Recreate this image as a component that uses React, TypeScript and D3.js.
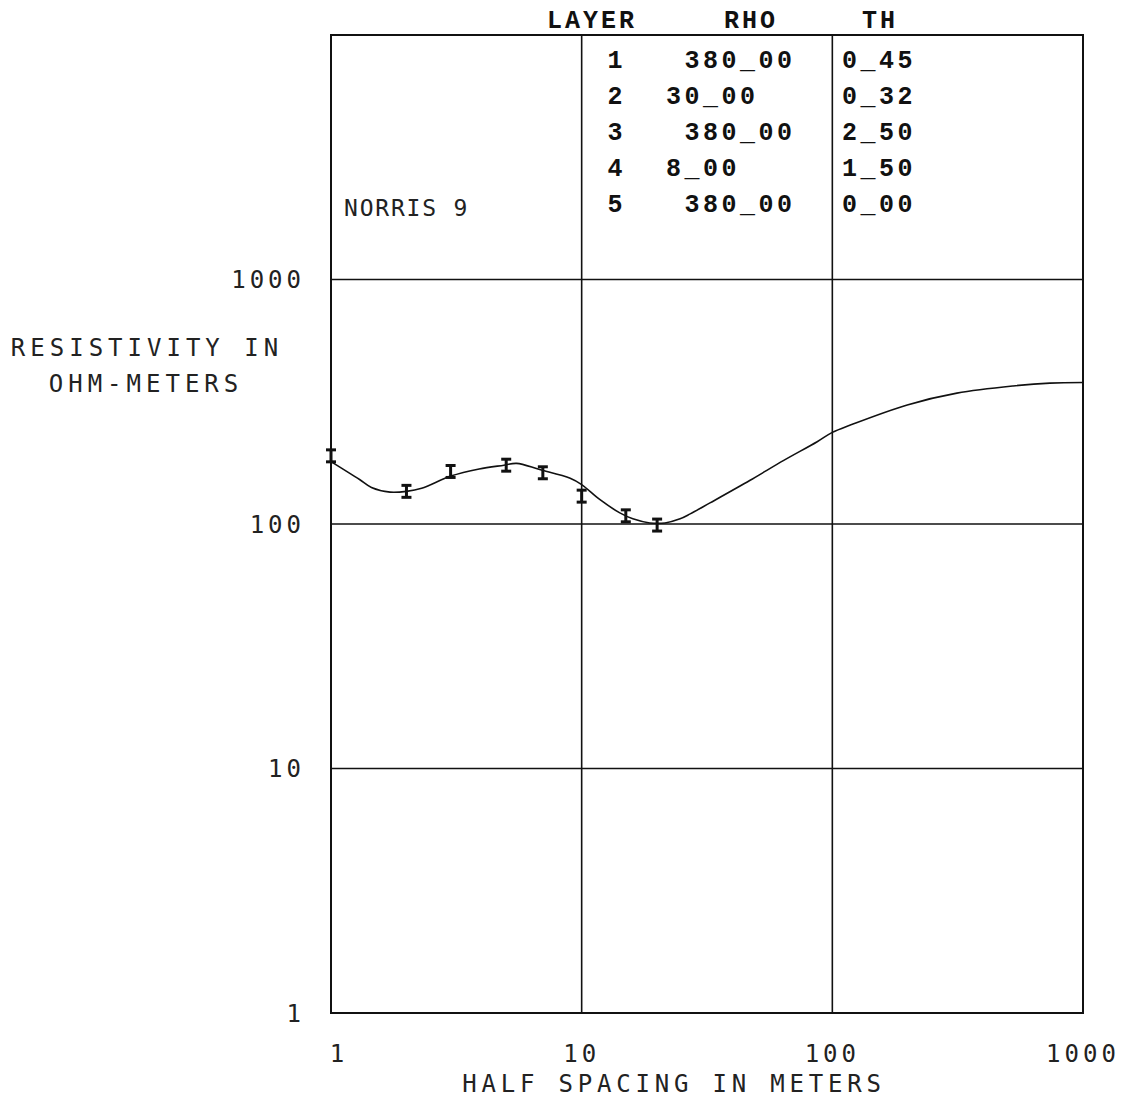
import * as d3 from 'd3';

// axis ticks
const spacingTicks = [1, 10, 100, 1000];
const resTicks = [1, 10, 100, 1000];
const gridX = [10, 100];
const gridY = [10, 100, 1000];

// field soundings (half spacing m, apparent resistivity ohm-m)
const fieldSpacing = [1, 2, 3, 5, 7, 10, 15, 20];
const fieldRho = [190, 136, 164, 174, 162, 130, 108, 99];

// model curve
const modelSpacing = [1, 1.3, 1.45, 1.72, 2, 2.3, 3, 3.9, 4.9, 5.5, 6.8, 9, 10, 11.8, 14.2, 16, 18.7, 21.5, 24.7, 27.1, 32.5, 47, 64, 87, 100, 118, 199, 314, 526, 738, 1000];
const modelRho = [180, 152, 141, 135, 136, 140, 157, 168, 174, 177, 167, 154, 145, 126, 111, 105, 101, 101, 105, 110, 122, 151, 182, 217, 237, 254, 307, 343, 367, 377, 379];

// layer table
const layerNo = ['1', '2', '3', '4', '5'];
const layerRho = [' 380_00', '30_00', ' 380_00', '8_00', ' 380_00'];
const layerTh = ['0_45', '0_32', '2_50', '1_50', '0_00'];

const W = 1143;
const H = 1103;
const ERR = 1.058;

const mono = '"DejaVu Sans Mono", monospace';
const type = '"Liberation Mono", "Courier New", monospace';

export default function App() {
  const x = d3.scaleLog().domain([1, 1000]).range([331, 1083]);
  const y = d3.scaleLog().domain([1, 10000]).range([1013, 35]);

  const line = d3
    .line<number>()
    .x((_, i) => x(modelSpacing[i]))
    .y((d) => y(d))
    .curve(d3.curveCatmullRom.alpha(0.5));

  const x0 = x(1);
  const x1 = x(1000);
  const yTop = y(10000);
  const yBot = y(1);
  const rowY = (i: number) => 68 + i * 36;

  return (
    <svg width={W} height={H} style={{ position: 'absolute', left: 0, top: 0, background: '#fff' }}>
      {/* grid */}
      {gridX.map((v) => (
        <line key={'gx' + v} x1={x(v)} x2={x(v)} y1={yTop} y2={yBot} stroke="#111" strokeWidth={1.6} />
      ))}
      {gridY.map((v) => (
        <line key={'gy' + v} x1={x0} x2={x1} y1={y(v)} y2={y(v)} stroke="#111" strokeWidth={1.4} />
      ))}
      {/* frame */}
      <rect x={x0} y={yTop} width={x1 - x0} height={yBot - yTop} fill="none" stroke="#111" strokeWidth={2} />

      {/* model curve */}
      <path d={line(modelRho) || ''} fill="none" stroke="#111" strokeWidth={1.6} />

      {/* field data with error bars */}
      {fieldSpacing.map((s, i) => {
        const cx = x(s);
        const ya = y(fieldRho[i] * ERR);
        const yb = y(fieldRho[i] / ERR);
        return (
          <g key={'p' + i} stroke="#111" strokeWidth={3}>
            <line x1={cx} x2={cx} y1={ya} y2={yb} />
            <line x1={cx - 5} x2={cx + 5} y1={ya} y2={ya} />
            <line x1={cx - 5} x2={cx + 5} y1={yb} y2={yb} />
          </g>
        );
      })}

      {/* y tick labels */}
      {resTicks.map((v) => (
        <text key={'yl' + v} x={305} y={y(v)} dy="0.36em" textAnchor="end" fontFamily={mono} fontSize={24} letterSpacing={4} fill="#222">
          {String(v)}
        </text>
      ))}
      {/* x tick labels */}
      {spacingTicks.map((v) => (
        <text key={'xl' + v} x={x(v) + (v === 1 ? 8 : 0)} y={1062} textAnchor="middle" fontFamily={mono} fontSize={24} letterSpacing={4} fill="#222">
          {String(v)}
        </text>
      ))}

      {/* axis titles */}
      <text x={147} y={356} textAnchor="middle" fontFamily={mono} fontSize={24} letterSpacing={5} fill="#222">
        RESISTIVITY IN
      </text>
      <text x={146} y={392} textAnchor="middle" fontFamily={mono} fontSize={24} letterSpacing={5} fill="#222">
        OHM-METERS
      </text>
      <text x={674} y={1092} textAnchor="middle" fontFamily={mono} fontSize={24} letterSpacing={4.8} fill="#222">
        HALF SPACING IN METERS
      </text>

      <text x={344} y={216} fontFamily={mono} fontSize={23} letterSpacing={1.8} fill="#222">
        NORRIS 9
      </text>

      {/* layer table */}
      <g fontFamily={type} fontWeight="bold" fontSize={25} fill="#111">
        <text x={592} y={28} textAnchor="middle" letterSpacing={3}>LAYER</text>
        <text x={751} y={28} textAnchor="middle" letterSpacing={3}>RHO</text>
        <text x={880} y={28} textAnchor="middle" letterSpacing={3}>TH</text>
        {layerNo.map((n, i) => (
          <g key={'row' + i}>
            <text x={615} y={rowY(i)} textAnchor="middle">{n}</text>
            <text x={666} y={rowY(i)} letterSpacing={3.5} style={{ whiteSpace: 'pre' }}>{layerRho[i]}</text>
            <text x={842} y={rowY(i)} letterSpacing={3.5}>{layerTh[i]}</text>
          </g>
        ))}
      </g>
    </svg>
  );
}
